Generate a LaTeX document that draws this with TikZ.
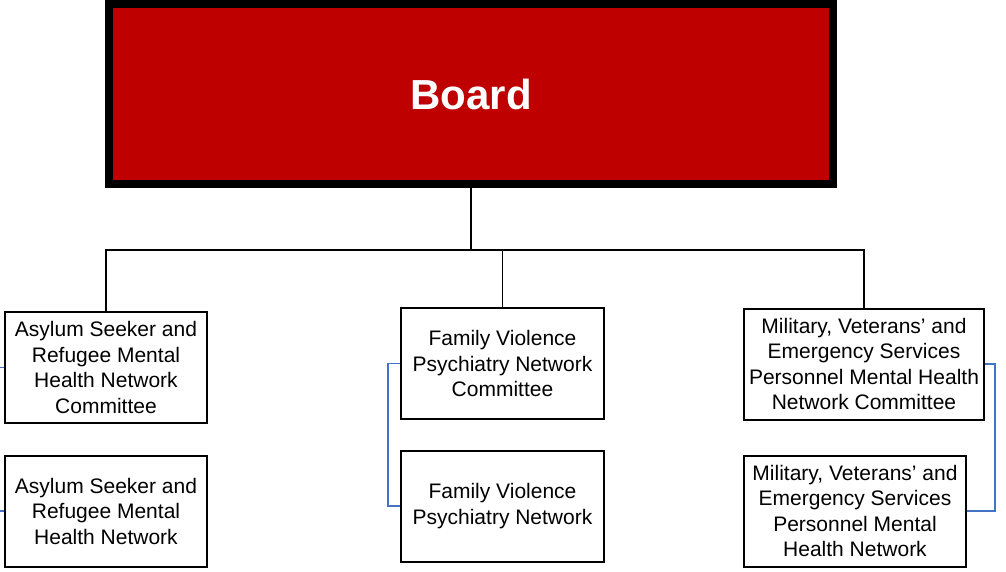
\documentclass[tikz,border=0pt]{standalone}
\usepackage{fontspec}
\setmainfont{Liberation Sans}
\usepackage{tikz}
\definecolor{boardred}{RGB}{190,0,0}
\definecolor{linkblue}{RGB}{68,114,196}

\begin{document}
\begin{tikzpicture}[x=1pt,y=-1pt,
  unit/.style={rectangle,draw,line width=2pt,align=center,inner sep=0pt,minimum height=111pt,font=\fontsize{21}{25.5}\selectfont},
  link/.style={draw=linkblue,line width=1.5pt}]
\useasboundingbox (0,0) rectangle (1006,571);
\node (board) [rectangle,draw,line width=8pt,fill=boardred,minimum width=724pt,minimum height=180pt,text=white,font=\fontsize{42}{50}\selectfont\bfseries] at (471,94) {Board};
\node (asylcom) [unit,minimum width=202pt] at (106,367.5) {Asylum Seeker and\\Refugee Mental\\Health Network\\Committee};
\node (asylnet) [unit,minimum width=202pt] at (106,511) {Asylum Seeker and\\Refugee Mental\\Health Network};
\node (fvcom) [unit,minimum width=203pt] at (502.5,363.5) {Family Violence\\Psychiatry Network\\Committee};
\node (fvnet) [unit,minimum width=203pt] at (502.5,506) {Family Violence\\Psychiatry Network};
\node (milcom) [unit,minimum width=240pt] at (864,364) {Military, Veterans’ and\\Emergency Services\\Personnel Mental Health\\Network Committee};
\node (milnet) [unit,minimum width=222pt] at (855,511) {Military, Veterans’ and\\Emergency Services\\Personnel Mental\\Health Network};
\coordinate (bus) at (471,250);
% reporting lines
\draw [line width=1.5pt] (board.south) -- (bus);
\draw [line width=1.5pt] (asylcom.north) -- (asylcom.north |- bus) -- (milcom.north |- bus) -- (milcom.north);
\draw [line width=1.5pt] (fvcom.north) -- (fvcom.north |- bus);
% committee to network
\draw [link] (asylcom.west) -- ++(-6,0);
\draw [link] (asylnet.west) -- ++(-6,0);
\draw [link] (fvcom.west) -- ++(-12,0) |- (fvnet.west);
\draw [link] (milcom.east) -- ++(10,0) |- (milnet.east);
\end{tikzpicture}
\end{document}
